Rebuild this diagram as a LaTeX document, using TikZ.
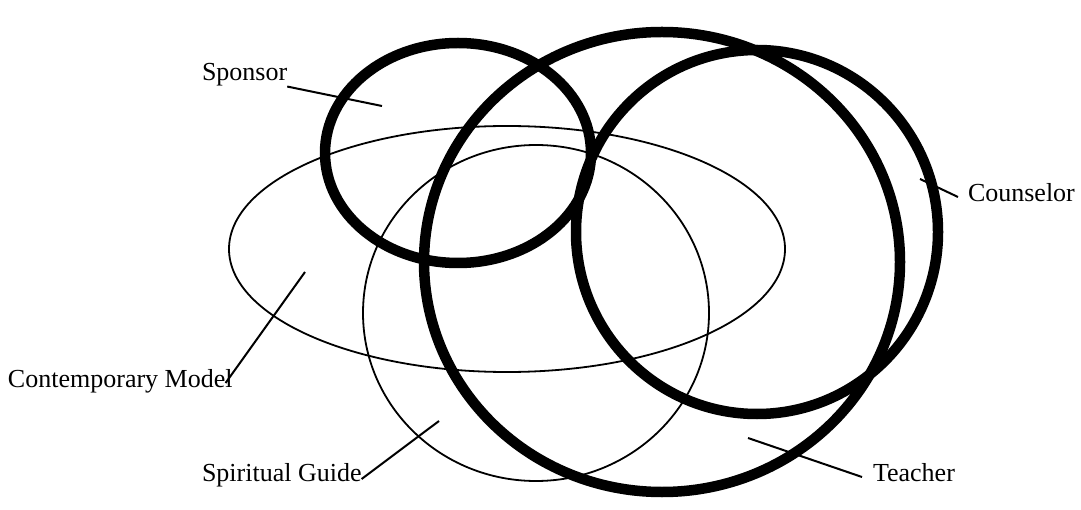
\documentclass[tikz,border=0pt]{standalone}
\usepackage{fontspec}
\setmainfont{Liberation Serif}
\usetikzlibrary{shapes.geometric}
\tikzset{
  ring/.style={draw=black, ellipse, inner sep=0pt, outer sep=0pt},
  thickring/.style={ring, line width=10.5pt},
  thinring/.style={ring, line width=1.8pt},
  lbl/.style={inner sep=0pt, outer sep=0pt, font=\fontsize{26}{30}\selectfont, anchor=base west},
  pointer/.style={draw=black, line width=2pt}
}
\begin{document}
\begin{tikzpicture}[x=1pt,y=-1pt]
\useasboundingbox (0,0) rectangle (1081,510);
% shapes
\node[thinring, minimum width=556pt, minimum height=246pt] (cmodel) at (507,249) {};
\node[thinring, minimum width=346pt, minimum height=336pt] (sguide) at (536,313) {};
\node[thickring, minimum width=266pt, minimum height=220pt] (sponsor) at (458,153) {};
\node[thickring, minimum width=476pt, minimum height=460pt] (teacher) at (662,262) {};
\node[thickring, minimum width=362pt, minimum height=364pt] (counsel) at (757,232) {};
% labels
\node[lbl] (tsponsor) at (202,81) {Sponsor};
\node[lbl] (tcmodel) at (8,387) {Contemporary Model};
\node[lbl] (tsguide) at (202,481) {Spiritual Guide};
\node[lbl] (tteacher) at (873,481) {Teacher};
\node[lbl] (tcounsel) at (968,202) {Counselor};
% pointer ends
\coordinate (psponsor) at (382,106);
\coordinate (pcmodel) at (305,272);
\coordinate (psguide) at (439,421);
\coordinate (pteacher) at (748,438);
\coordinate (pcounsel) at (920,179);
% pointers
\draw[pointer] (tsponsor.south east) -- (psponsor);
\draw[pointer] ([shift={(-7,-4)}]tcmodel.base east) -- (pcmodel);
\draw[pointer] ([shift={(0,-2)}]tsguide.base east) -- (psguide);
\draw[pointer] ([shift={(-11,-4)}]tteacher.base west) -- (pteacher);
\draw[pointer] ([shift={(-10,-5)}]tcounsel.base west) -- (pcounsel);
\end{tikzpicture}
\end{document}
